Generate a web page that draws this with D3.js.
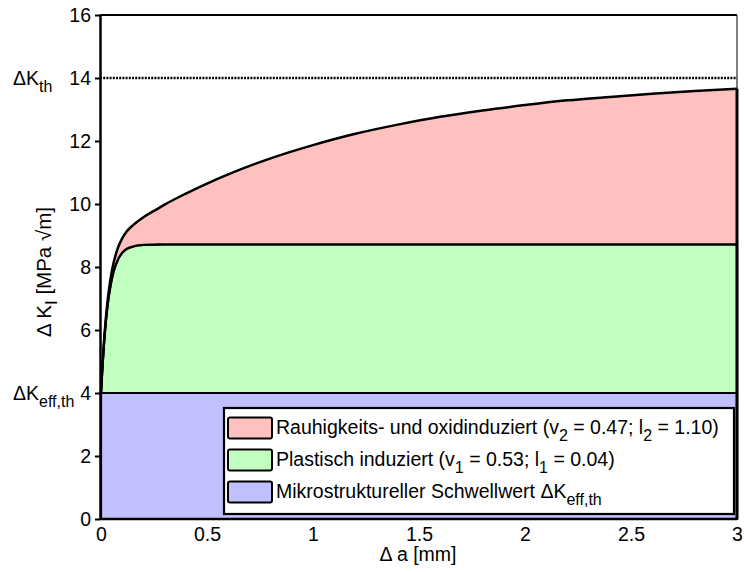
<!DOCTYPE html>
<html><head><meta charset="utf-8">
<script src="https://cdn.jsdelivr.net/npm/d3@7"></script>
<style>body{margin:0;background:#fff}svg{display:block}</style>
</head><body>
<svg id="c" width="744" height="572"></svg>
<script>
// Crack extension Δa [mm]
const crackLength = [0, 0.005, 0.01, 0.02, 0.03, 0.04, 0.05, 0.06, 0.08, 0.1, 0.12, 0.15, 0.2, 0.25, 0.3, 0.4, 0.5, 0.6, 0.8, 1.0, 1.2, 1.4, 1.6, 1.8, 2.0, 2.2, 2.4, 2.6, 2.8, 3.0];
// Plastic-induced threshold curve (upper edge of green band)
const plasticK = [4.00, 4.63, 5.17, 6.05, 6.72, 7.21, 7.59, 7.87, 8.24, 8.45, 8.57, 8.65, 8.70, 8.71, 8.72, 8.72, 8.72, 8.72, 8.72, 8.72, 8.72, 8.72, 8.72, 8.72, 8.72, 8.72, 8.72, 8.72, 8.72, 8.72];
// Total threshold curve (upper edge of red band)
const totalK = [4.00, 4.65, 5.22, 6.15, 6.86, 7.40, 7.83, 8.15, 8.61, 8.91, 9.12, 9.32, 9.58, 9.78, 9.98, 10.33, 10.65, 10.94, 11.45, 11.87, 12.23, 12.52, 12.77, 12.97, 13.14, 13.29, 13.40, 13.50, 13.59, 13.66];
const kEffTh = 4;
const kTh = 14;
const yTicks = [0, 2, 4, 6, 8, 10, 12, 14, 16];
const xTicks = [0, 0.5, 1, 1.5, 2, 2.5, 3];
const xTickLabels = ["0", "0.5", "1", "1.5", "2", "2.5", "3"];
const colors = {rough: "#ffc0c0", plastic: "#c0ffc0", micro: "#c0c0ff"};
const legendItems = [
  {color: colors.rough, parts: [["Rauhigkeits- und oxidinduziert (v", 0], ["2", 1], [" = 0.47; l", 0], ["2", 1], [" = 1.10)", 0]]},
  {color: colors.plastic, parts: [["Plastisch induziert (v", 0], ["1", 1], [" = 0.53; l", 0], ["1", 1], [" = 0.04)", 0]]},
  {color: colors.micro, parts: [["Mikrostruktureller Schwellwert \u0394K", 0], ["eff,th", 1]]}
];

const FONT = "'Liberation Sans', Arial, sans-serif";
const FS = 19.5, SUB = 16;
const svg = d3.select("#c").style("font-family", FONT);
const L = 100, R = 737, T = 15, B = 519;
const x = d3.scaleLinear().domain([0, 3]).range([101, R]);
const y = d3.scaleLinear().domain([0, 16]).range([B, T]);

const idx = d3.range(crackLength.length);
const g = svg.append("g");

// blue band
const micro = d3.area().x(i => x(crackLength[i])).y0(y(0)).y1(y(kEffTh));
g.append("path").datum([0, crackLength.length - 1]).attr("d", micro)
  .attr("fill", colors.micro).attr("stroke", "#000").attr("stroke-width", 2.2);
// green band
const plasticArea = d3.area().x(i => x(crackLength[i])).y0(y(kEffTh)).y1(i => y(plasticK[i])).curve(d3.curveMonotoneX);
g.append("path").datum(idx).attr("d", plasticArea)
  .attr("fill", colors.plastic).attr("stroke", "#000").attr("stroke-width", 2.2);
// red band
const roughArea = d3.area().x(i => x(crackLength[i])).y0(i => y(plasticK[i])).y1(i => y(totalK[i])).curve(d3.curveMonotoneX);
g.append("path").datum(idx).attr("d", roughArea)
  .attr("fill", colors.rough).attr("stroke", "none");
g.append("path").datum(idx)
  .attr("d", d3.line().x(i => x(crackLength[i])).y(i => y(totalK[i])).curve(d3.curveMonotoneX))
  .attr("fill", "none").attr("stroke", "#000").attr("stroke-width", 2.5);
g.append("path").datum(idx)
  .attr("d", d3.line().x(i => x(crackLength[i])).y(i => y(plasticK[i])).curve(d3.curveMonotoneX))
  .attr("fill", "none").attr("stroke", "#000").attr("stroke-width", 2.3);
// right edge of the bands
g.append("line").attr("x1", x(3)).attr("x2", x(3)).attr("y1", y(totalK[totalK.length - 1])).attr("y2", y(0))
  .attr("stroke", "#000").attr("stroke-width", 3);

// ΔK_th dotted line
g.append("line").attr("x1", L).attr("x2", R).attr("y1", y(kTh)).attr("y2", y(kTh))
  .attr("stroke", "#000").attr("stroke-width", 2.4).attr("stroke-dasharray", "2,1.2");

// box
svg.append("line").attr("x1", R).attr("x2", R).attr("y1", T).attr("y2", B).attr("stroke", "#000").attr("stroke-width", 1);
svg.append("line").attr("x1", L).attr("x2", R).attr("y1", T).attr("y2", T).attr("stroke", "#000").attr("stroke-width", 2);

// axes
const yAxis = svg.append("g").attr("transform", `translate(${L},0)`)
  .call(d3.axisLeft(y).tickValues(yTicks).tickFormat(d3.format("d")).tickSize(5).tickSizeOuter(0).tickPadding(4));
const xAxis = svg.append("g").attr("transform", `translate(0,${B})`)
  .call(d3.axisBottom(x).tickValues(xTicks).tickFormat((d, i) => xTickLabels[i]).tickSize(0).tickSizeOuter(0).tickPadding(8));
[yAxis, xAxis].forEach(a => {
  a.selectAll("text").attr("font-size", FS).attr("font-family", FONT).attr("fill", "#000");
  a.selectAll(".tick line").attr("stroke", "#000").attr("stroke-width", 2);
  a.select(".domain").attr("stroke", "#000").attr("stroke-width", 2.5);
});
xAxis.select(".domain").attr("d", `M${L},0H${R}`);

// axis titles
const yl = svg.append("text").attr("transform", "translate(51,272) rotate(-90)")
  .attr("text-anchor", "middle").attr("font-size", 20.5);
yl.append("tspan").text("\u0394 K");
yl.append("tspan").attr("dy", 6).attr("font-size", 17).text("I");
yl.append("tspan").attr("dy", -6).text(" [MPa \u221Am]");

svg.append("text").attr("x", 418).attr("y", 561).attr("text-anchor", "middle")
  .attr("font-size", FS).text("\u0394 a [mm]");

// threshold labels at left
function subLabel(xx, yy, main, sub) {
  const t = svg.append("text").attr("x", xx).attr("y", yy).attr("font-size", FS);
  t.append("tspan").text(main);
  t.append("tspan").attr("dy", 7).attr("font-size", SUB).text(sub);
}
subLabel(13, y(kTh) + 7, "\u0394K", "th");
subLabel(13, y(kEffTh) + 7, "\u0394K", "eff,th");

// legend
const lg = svg.append("g");
lg.append("rect").attr("x", 224).attr("y", 408).attr("width", 510).attr("height", 106)
  .attr("fill", "#fff").attr("stroke", "#000").attr("stroke-width", 2.2);
legendItems.forEach((it, i) => {
  const cy = 428 + i * 32;
  lg.append("rect").attr("x", 228).attr("y", cy - 10.5).attr("width", 44).attr("height", 21).attr("rx", 2)
    .attr("fill", it.color).attr("stroke", "#000").attr("stroke-width", 2);
  const t = lg.append("text").attr("x", 276).attr("y", cy + 6).attr("font-size", FS);
  let sub = 0;
  it.parts.forEach(([s, isSub]) => {
    const ts = t.append("tspan").text(s);
    if (isSub && !sub) { ts.attr("dy", 7).attr("font-size", SUB); sub = 1; }
    else if (!isSub && sub) { ts.attr("dy", -7); sub = 0; }
    else if (isSub) ts.attr("font-size", SUB);
  });
});
</script>
</body></html>
